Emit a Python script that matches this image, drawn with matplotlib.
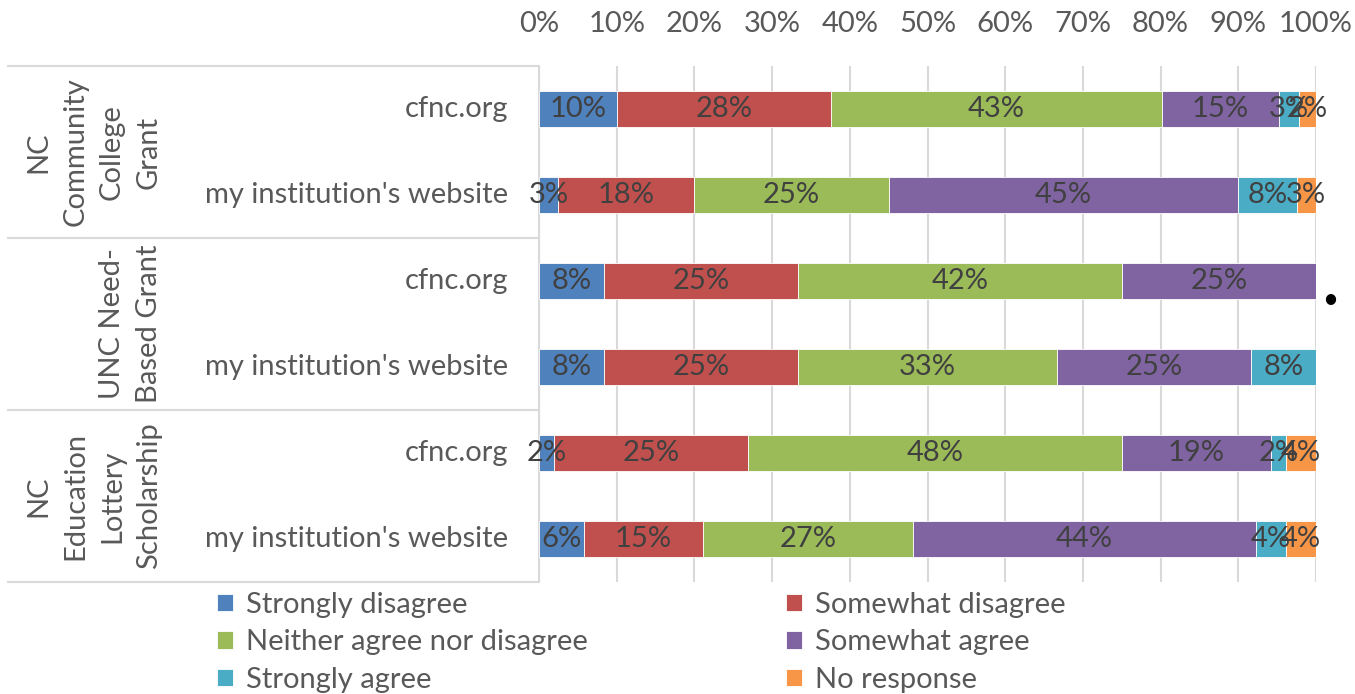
import matplotlib.pyplot as plt
import numpy as np

plt.rcParams['font.family'] = ['Lato', 'DejaVu Sans']

# rows top to bottom
groups = ["NC\nCommunity\nCollege\nGrant", "UNC Need-\nBased Grant", "NC\nEducation\nLottery\nScholarship"]
sources = ["cfnc.org", "my institution's website"] * 3
responses = ["Strongly disagree", "Somewhat disagree", "Neither agree nor disagree",
             "Somewhat agree", "Strongly agree", "No response"]
colors = ["#4F81BD", "#C0504D", "#9BBB59", "#8064A2", "#4BACC6", "#F79646"]

# percent of respondents, one list per response, rows top to bottom
strongly_disagree = [10.0, 2.5, 8.33, 8.33, 1.92, 5.77]
somewhat_disagree = [27.6, 17.5, 25.0, 25.0, 25.0, 15.38]
neither = [42.6, 25.0, 41.67, 33.33, 48.08, 26.92]
somewhat_agree = [15.0, 45.0, 25.0, 25.0, 19.23, 44.23]
strongly_agree = [2.6, 7.5, 0, 8.33, 1.92, 3.85]
no_response = [2.2, 2.5, 0, 0, 3.85, 3.85]
series = [strongly_disagree, somewhat_disagree, neither, somewhat_agree, strongly_agree, no_response]

fig = plt.figure(figsize=(13.55, 6.94), dpi=100)
ax = fig.add_axes([539/1355, 1-582/694, (1316-539)/1355, (582-66)/694])

txt = "#595959"
fs = 21
y = np.arange(len(sources))
left = np.zeros(len(sources))
handles = []
for vals, c, name in zip(series, colors, responses):
    vals = np.array(vals)
    b = ax.barh(y, vals, left=left, height=0.41, color=c, edgecolor="white", linewidth=0.6, label=name, zorder=3)
    handles.append(b)
    for yi, v, l in zip(y, vals, left):
        if v > 0:
            ax.text(l + v/2, yi, "%d%%" % int(v + 0.5), ha="center", va="center",
                    fontsize=fs, color="#404040", zorder=4)
    left += vals

ax.set_xlim(0, 100)
ax.set_ylim(len(sources) - 0.5, -0.5)
ax.set_xticks(np.arange(0, 101, 10))
ax.set_xticklabels(["%d%%" % t for t in range(0, 101, 10)])
ax.xaxis.tick_top()
ax.tick_params(axis="x", length=0, pad=21, labelsize=fs, labelcolor=txt)
ax.set_yticks([])
ax.grid(axis="x", color="#D9D9D9", linewidth=1.5, zorder=0)
for s in ["top", "right", "bottom"]:
    ax.spines[s].set_visible(False)
ax.spines["left"].set_color("#D9D9D9")
ax.spines["left"].set_linewidth(1.5)

# category labels
for yi, s in zip(y, sources):
    ax.text(-31/7.77, yi, s, ha="right", va="center", fontsize=fs, color=txt)

# group separators and group labels
for k in range(4):
    yy = k * 2 - 0.5
    ax.plot([-531/7.77, 0], [yy, yy], color="#D9D9D9", linewidth=1.5, clip_on=False, zorder=1)
for k, g in enumerate(groups):
    ax.text(-(539-162)/7.77, k * 2 + 0.5, g, rotation=90, ha="right", va="center",
            multialignment="center", fontsize=fs, color=txt, linespacing=1.52)

order = [0, 2, 4, 1, 3, 5]
fig.legend([handles[i] for i in order], [responses[i] for i in order], ncol=2,
           loc="upper left", bbox_to_anchor=(205/1355, 1-580/694), frameon=False,
           fontsize=fs, labelcolor=txt, handlelength=0.55, handleheight=0.55,
           handletextpad=0.45, columnspacing=6.8, labelspacing=0.4, borderaxespad=0)

fig.text(1330/1355, 1-300/694, "\u2022", fontsize=20, ha="center", va="center", color="black")

fig.savefig("out.png", dpi=100)
